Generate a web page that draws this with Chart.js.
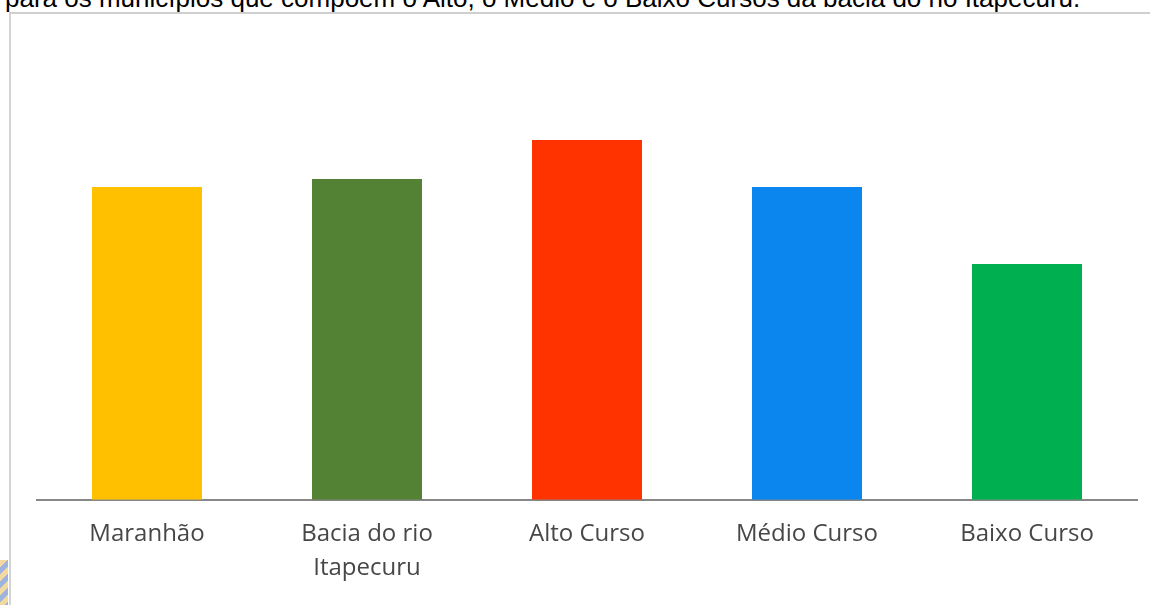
<!DOCTYPE html>
<html lang="pt">
<head>
<meta charset="utf-8">
<title>Bacia do rio Itapecuru</title>
<script src="https://cdn.jsdelivr.net/npm/chart.js@4/dist/chart.umd.min.js"></script>
<style>
  html, body { margin: 0; padding: 0; background: #fff; overflow: hidden; }
  body { width: 1150px; height: 605px; position: relative; }
  #legenda {
    position: absolute; left: 5px; top: -15px;
    font: 26px "Liberation Sans", Arial, sans-serif; line-height: 26px;
    color: #000; white-space: nowrap;
  }
  #moldura {
    position: absolute; left: 9px; top: 12px; right: 0; bottom: 0;
    border-left: 2px solid #d4d4d4; border-top: 2px solid #cfcfcf;
  }
  #logo {
    position: absolute; left: 0; top: 560px; width: 8px; height: 45px;
    background: repeating-linear-gradient(135deg, #f3d9a0 0 5px, #9db4de 5px 10px);
  }
  #grafico { position: absolute; left: 0; top: 0; }
</style>
</head>
<body>
<div id="legenda">para os municípios que compõem o Alto, o Médio e o Baixo Cursos da bacia do rio Itapecuru.</div>
<div id="moldura"></div>
<div id="logo"></div>
<canvas id="grafico" width="1150" height="605"></canvas>
<script>
// valores (sem eixo y visível, escala relativa)
const categorias = ["Maranhão", ["Bacia do rio", "Itapecuru"], "Alto Curso", "Médio Curso", "Baixo Curso"];
const valores    = [313, 321, 360, 313, 236];
const cores      = ["#FFC000", "#548235", "#FF3300", "#0A86EE", "#00B050"];
const escalaMax  = 480;

const ctx = document.getElementById("grafico").getContext("2d");
new Chart(ctx, {
  type: "bar",
  data: {
    labels: categorias,
    datasets: [{
      data: valores,
      backgroundColor: cores,
      borderWidth: 0,
      barPercentage: 0.5,
      categoryPercentage: 1
    }]
  },
  options: {
    responsive: false,
    animation: false,
    layout: { padding: { left: 37, right: 13, top: 20, bottom: 2 } },
    plugins: { legend: { display: false }, tooltip: { enabled: false } },
    scales: {
      x: {
        grid: { display: false, drawTicks: false },
        border: { display: true, color: "#878787", width: 2 },
        ticks: {
          padding: 18,
          color: "#474747",
          font: { family: "'Open Sans', sans-serif", size: 24, lineHeight: 1.4 },
          maxRotation: 0,
          autoSkip: false
        }
      },
      y: {
        display: false,
        min: 0,
        max: escalaMax
      }
    }
  }
});
</script>
</body>
</html>
